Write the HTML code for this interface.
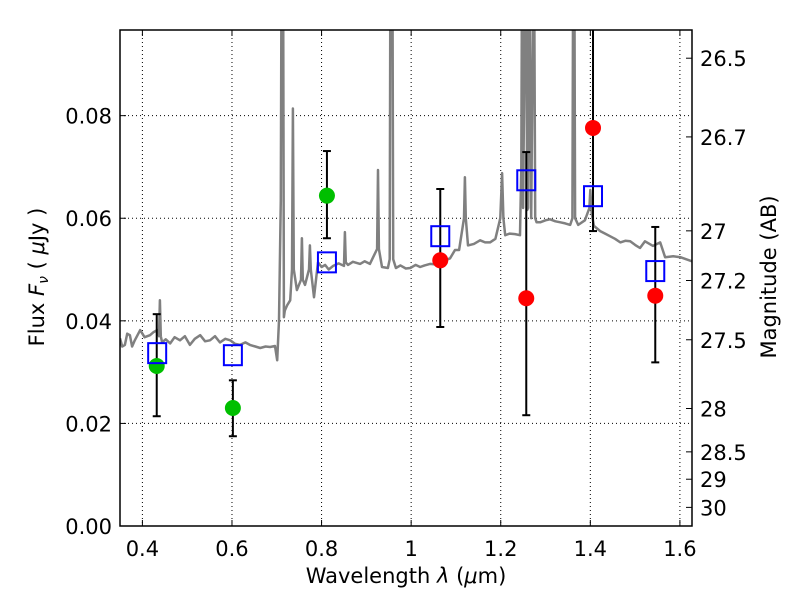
<!DOCTYPE html>
<html><head><meta charset="utf-8"><style>
body{margin:0;background:#fff;}
svg text{font-family:"DejaVu Sans","Liberation Sans",sans-serif;}
</style></head><body>
<svg id="chart" width="800" height="600" xmlns="http://www.w3.org/2000/svg"></svg>
<script>
const xTicks=[0.4,0.6,0.8,1.0,1.2,1.4,1.6];
const xTickLabels=["0.4","0.6","0.8","1","1.2","1.4","1.6"];
const yTicks=[0,0.02,0.04,0.06,0.08];
const yTickLabels=["0.00","0.02","0.04","0.06","0.08"];
const magTicks=[26.5,26.7,27,27.2,27.5,28,28.5,29,30];
const magTickLabels=["26.5","26.7","27","27.2","27.5","28","28.5","29","30"];
const specWave=[0.350,0.355,0.361,0.366,0.372,0.377,0.383,0.389,0.395,0.405,0.417,0.425,0.433,0.437,0.439,0.441,0.444,0.452,0.462,0.472,0.484,0.495,0.506,0.517,0.529,0.540,0.551,0.562,0.573,0.585,0.596,0.607,0.618,0.630,0.640,0.652,0.663,0.675,0.685,0.696,0.701,0.705,0.709,0.711,0.714,0.716,0.718,0.723,0.730,0.734,0.736,0.738,0.745,0.754,0.756,0.758,0.763,0.772,0.774,0.776,0.783,0.792,0.800,0.808,0.816,0.826,0.838,0.850,0.852,0.854,0.859,0.870,0.886,0.896,0.908,0.924,0.926,0.928,0.935,0.948,0.952,0.954,0.958,0.960,0.966,0.976,0.988,0.998,1.010,1.020,1.030,1.042,1.054,1.065,1.076,1.087,1.098,1.107,1.118,1.120,1.122,1.127,1.140,1.154,1.165,1.176,1.188,1.199,1.203,1.206,1.210,1.220,1.232,1.243,1.246,1.248,1.250,1.256,1.259,1.261,1.263,1.268,1.274,1.277,1.280,1.288,1.300,1.310,1.322,1.333,1.344,1.355,1.360,1.362,1.364,1.366,1.373,1.388,1.398,1.400,1.403,1.408,1.422,1.433,1.444,1.455,1.467,1.478,1.489,1.500,1.511,1.522,1.540,1.556,1.567,1.585,1.601,1.627];
const specFlux=[0.0366,0.0350,0.0353,0.0375,0.0372,0.0350,0.0362,0.0372,0.0382,0.0368,0.0372,0.0378,0.0382,0.0370,0.0440,0.0370,0.0358,0.0364,0.0356,0.0368,0.0362,0.0370,0.0353,0.0365,0.0372,0.0360,0.0362,0.0370,0.0358,0.0365,0.0362,0.0355,0.0353,0.0358,0.0353,0.0350,0.0347,0.0350,0.0349,0.0351,0.0323,0.0401,0.0635,0.1200,0.1200,0.0407,0.0420,0.0430,0.0440,0.0500,0.0814,0.0500,0.0460,0.0480,0.0561,0.0480,0.0470,0.0500,0.0547,0.0500,0.0446,0.0514,0.0505,0.0509,0.0500,0.0507,0.0512,0.0507,0.0573,0.0514,0.0509,0.0515,0.0511,0.0516,0.0511,0.0540,0.0694,0.0540,0.0505,0.0503,0.0520,0.1200,0.1200,0.0520,0.0503,0.0508,0.0502,0.0503,0.0509,0.0505,0.0508,0.0511,0.0510,0.0514,0.0518,0.0522,0.0538,0.0538,0.0600,0.0680,0.0600,0.0547,0.0550,0.0557,0.0553,0.0553,0.0560,0.0600,0.0688,0.0600,0.0567,0.0570,0.0569,0.0567,0.0700,0.1200,0.0620,0.1200,0.0616,0.0620,0.1200,0.0600,0.1200,0.0600,0.0592,0.0592,0.0596,0.0598,0.0594,0.0592,0.0590,0.0587,0.0600,0.1200,0.1200,0.0600,0.0587,0.0596,0.0620,0.0655,0.0610,0.0585,0.0575,0.0570,0.0565,0.0560,0.0553,0.0556,0.0555,0.0548,0.0542,0.0555,0.0546,0.0553,0.0524,0.0526,0.0524,0.0516];
const greenWave=[0.432,0.602,0.812];
const greenFlux=[0.0312,0.0230,0.0644];
const greenErrLo=[0.0214,0.0175,0.0561];
const greenErrHi=[0.0413,0.0284,0.0731];
const redWave=[1.065,1.257,1.406,1.545];
const redFlux=[0.0518,0.0444,0.0776,0.0449];
const redErrLo=[0.0388,0.0216,0.0575,0.0319];
const redErrHi=[0.0657,0.0729,0.1000,0.0583];
const modelWave=[0.433,0.602,0.812,1.065,1.257,1.406,1.545];
const modelFlux=[0.0337,0.0333,0.0514,0.0565,0.0674,0.0643,0.0497];

const L=120,R=692,T=30,B=526;
const X0=0.35,X1=1.627,Y0=0,Y1=0.0967;
const sx=v=>L+(v-X0)/(X1-X0)*(R-L);
const sy=v=>B-(v-Y0)/(Y1-Y0)*(B-T);
const magToFlux=m=>Math.pow(10,(23.9-m)/2.5);
const svg=document.getElementById('chart');
const NS='http://www.w3.org/2000/svg';
function mk(tag,attrs,parent){const e=document.createElementNS(NS,tag);for(const k in attrs)e.setAttribute(k,attrs[k]);(parent||svg).appendChild(e);return e;}

mk('defs',{}).innerHTML='<clipPath id="clip"><rect x="'+L+'" y="'+T+'" width="'+(R-L)+'" height="'+(B-T)+'"/></clipPath>';
const grid=mk('g',{stroke:'#000','stroke-width':1,'stroke-dasharray':'1,3'});


xTicks.forEach(v=>{mk('line',{x1:sx(v),x2:sx(v),y1:T,y2:B},grid);});
yTicks.forEach(v=>{mk('line',{x1:L,x2:R,y1:sy(v),y2:sy(v)},grid);});

const plot=mk('g',{'clip-path':'url(#clip)'});
let d='';
specWave.forEach((w,i)=>{d+=(i?'L':'M')+sx(w).toFixed(1)+','+sy(specFlux[i]).toFixed(1);});
const sp=mk('path',{d:d,fill:'none',stroke:'#808080','stroke-width':2.5,'stroke-linejoin':'round'},plot);



function errs(ws,lo,hi,name){ws.forEach((w,i)=>{const g=mk('g',{stroke:'#000','stroke-width':2},plot);


const x=sx(w);mk('line',{x1:x,x2:x,y1:sy(lo[i]),y2:sy(hi[i])},g);
mk('line',{x1:x-4,x2:x+4,y1:sy(lo[i]),y2:sy(lo[i])},g);
mk('line',{x1:x-4,x2:x+4,y1:sy(hi[i]),y2:sy(hi[i])},g);});}
errs(greenWave,greenErrLo,greenErrHi,'optical');
errs(redWave,redErrLo,redErrHi,'nir');
greenWave.forEach((w,i)=>{const c=mk('circle',{cx:sx(w),cy:sy(greenFlux[i]),r:8,fill:'#00bf00'},plot);

});
redWave.forEach((w,i)=>{const c=mk('circle',{cx:sx(w),cy:sy(redFlux[i]),r:8,fill:'#ff0000'},plot);

});
modelWave.forEach((w,i)=>{const r=mk('rect',{x:sx(w)-9,y:sy(modelFlux[i])-10,width:18,height:20,fill:'none',stroke:'#0000ff','stroke-width':2},plot);

});

const ax=mk('rect',{x:L,y:T,width:R-L,height:B-T,fill:'none',stroke:'#000','stroke-width':1.5});


const tk=mk('g',{stroke:'#000','stroke-width':1});
xTicks.forEach(v=>{mk('line',{x1:sx(v),x2:sx(v),y1:B,y2:B-6},tk);mk('line',{x1:sx(v),x2:sx(v),y1:T,y2:T+6},tk);});
yTicks.forEach(v=>{mk('line',{x1:L,x2:L+6,y1:sy(v),y2:sy(v)},tk);});
magTicks.forEach(m=>{mk('line',{x1:R,x2:R-6,y1:sy(magToFlux(m)),y2:sy(magToFlux(m))},tk);});
xTicks.forEach((v,i)=>{const t=mk('text',{x:sx(v),y:B+30,'text-anchor':'middle','font-size':21});t.textContent=xTickLabels[i];

});
yTicks.forEach((v,i)=>{const t=mk('text',{x:L-8,y:sy(v)+8,'text-anchor':'end','font-size':21});t.textContent=yTickLabels[i];

});
magTicks.forEach((m,i)=>{const t=mk('text',{x:R+8,y:sy(magToFlux(m))+8,'text-anchor':'start','font-size':21});t.textContent=magTickLabels[i];

});
</script>
<svg style="position:absolute;left:0;top:0" width="800" height="600" xmlns="http://www.w3.org/2000/svg">
<text x="406" y="583" text-anchor="middle" font-size="21" font-family="DejaVu Sans, sans-serif">Wavelength  <tspan font-style="italic">λ</tspan> (<tspan font-style="italic">μ</tspan>m)</text>
<text transform="translate(44,277) rotate(-90)" text-anchor="middle" font-size="21" font-family="DejaVu Sans, sans-serif">Flux  <tspan font-style="italic">F</tspan><tspan font-style="italic" font-size="14" dy="4">ν</tspan><tspan dy="-4">  ( </tspan><tspan font-style="italic">μ</tspan>Jy )</text>
<text transform="translate(776,277) rotate(-90)" text-anchor="middle" font-size="21" font-family="DejaVu Sans, sans-serif">Magnitude (AB)</text>
</svg>
</body></html>
